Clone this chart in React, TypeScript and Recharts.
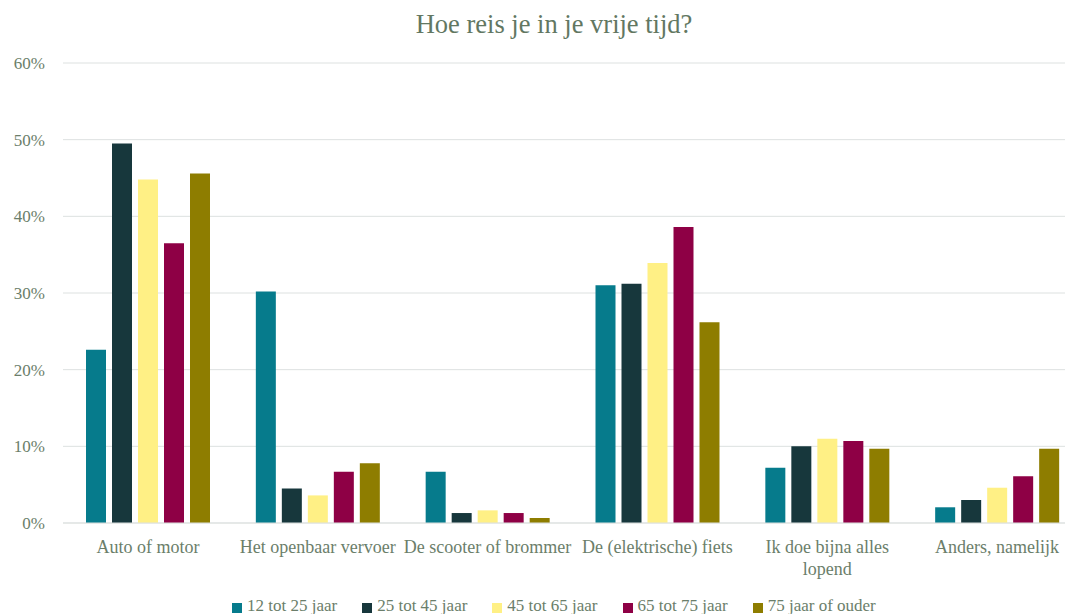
import React from 'react';
import { BarChart, Bar, XAxis, YAxis, CartesianGrid, Legend } from 'recharts';

const categories = [
  'Auto of motor',
  'Het openbaar vervoer',
  'De scooter of brommer',
  'De (elektrische) fiets',
  'Ik doe bijna alles lopend',
  'Anders, namelijk',
];
const tickLines = [
  ['Auto of motor'],
  ['Het openbaar vervoer'],
  ['De scooter of brommer'],
  ['De (elektrische) fiets'],
  ['Ik doe bijna alles', 'lopend'],
  ['Anders, namelijk'],
];
const seriesNames = ['12 tot 25 jaar', '25 tot 45 jaar', '45 tot 65 jaar', '65 tot 75 jaar', '75 jaar of ouder'];
const seriesColors = ['#067b8c', '#17373c', '#fff085', '#8e0045', '#8e7d00'];
const s12_25 = [22.6, 30.2, 6.7, 31.0, 7.2, 2.05];
const s25_45 = [49.5, 4.5, 1.3, 31.2, 10.0, 3.0];
const s45_65 = [44.8, 3.6, 1.65, 33.9, 11.0, 4.6];
const s65_75 = [36.5, 6.7, 1.3, 38.6, 10.7, 6.1];
const s75plus = [45.6, 7.8, 0.65, 26.2, 9.7, 9.7];
const yTicks = [0, 10, 20, 30, 40, 50, 60];

const seriesValues = [s12_25, s25_45, s45_65, s65_75, s75plus];
const keys = ['a', 'b', 'c', 'd', 'e'];

const data = categories.map((c, i) => {
  const row: any = { name: c, idx: i };
  keys.forEach((k, j) => {
    row[k] = seriesValues[j][i];
  });
  return row;
});

const TEXT = '#6b7e6a';
const FONT = '"Liberation Serif", serif';

const XTick = (props: any) => {
  const { x, y, payload } = props;
  const lines = tickLines[payload.index] || [payload.value];
  return (
    <g>
      {lines.map((l: string, i: number) => (
        <text key={i} x={x} y={y + 22 + i * 21.5} textAnchor="middle" fill={TEXT} fontSize={18} fontFamily={FONT}>
          {l}
        </text>
      ))}
    </g>
  );
};

const LegendContent = () => (
  <div style={{ display: 'flex', alignItems: 'center', fontFamily: FONT, fontSize: 17, lineHeight: '20px', color: TEXT }}>
    {seriesNames.map((n, i) => (
      <div key={n} style={{ display: 'flex', alignItems: 'center', marginRight: 25, whiteSpace: 'nowrap' }}>
        <span style={{ display: 'inline-block', width: 10, height: 10, background: seriesColors[i], marginRight: 5, marginTop: 3 }} />
        <span>{n}</span>
      </div>
    ))}
  </div>
);

export default function App() {
  return (
    <div style={{ position: 'absolute', left: 0, top: 0, width: 1065, height: 614, overflow: 'hidden', background: '#fff', fontFamily: FONT }}>
      <div style={{ position: 'absolute', left: 0, top: 9, width: 1108, textAlign: 'center', fontSize: 26.5, lineHeight: '30px', color: '#627762', whiteSpace: 'nowrap' }}>
        Hoe reis je in je vrije tijd?
      </div>
      <BarChart
        width={1090}
        height={614}
        data={data}
        margin={{ top: 63, right: 8, left: 0, bottom: 61 }}
        barGap={6}
        barSize={20}
      >
        <CartesianGrid vertical={false} stroke="#dde1e0" strokeWidth={1} />
        <XAxis
          dataKey="name"
          height={30}
          tickLine={false}
          axisLine={{ stroke: '#dde1e0' }}
          tick={<XTick />}
          interval={0}
        />
        <YAxis
          width={63}
          domain={[0, 60]}
          ticks={yTicks}
          tickFormatter={(v: number) => `${v}%`}
          tickLine={false}
          axisLine={false}
          tickMargin={12}
          tick={{ fill: TEXT, fontSize: 17, fontFamily: FONT }}
        />
        <Legend
          layout="horizontal"
          verticalAlign="middle"
          align="center"
          wrapperStyle={{ left: 232, top: 596, width: 800 }}
          content={<LegendContent />}
        />
        {keys.map((k, j) => (
          <Bar key={k} dataKey={k} name={seriesNames[j]} fill={seriesColors[j]} isAnimationActive={false} />
        ))}
      </BarChart>
    </div>
  );
}
